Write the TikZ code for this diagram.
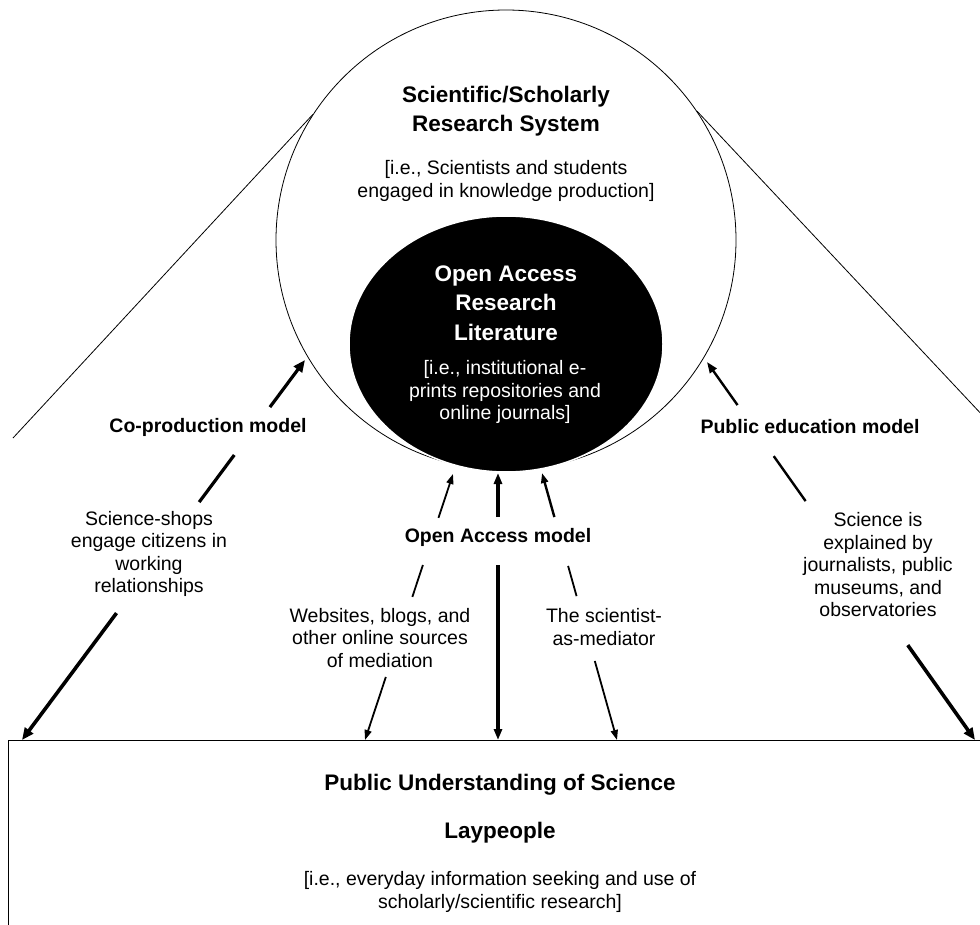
\documentclass[tikz,border=0pt]{standalone}
\usepackage{fontspec}
\setmainfont{Liberation Sans}
\usetikzlibrary{shapes.geometric,arrows.meta,calc}
\begin{document}
\begin{tikzpicture}[x=1pt,y=-1pt,
  reg/.style={font=\fontsize{19.5}{22.5}\selectfont, align=center, inner sep=0pt},
  lbl/.style={font=\bfseries\fontsize{19.5}{22.5}\selectfont, align=center, inner sep=0pt},
  ttl/.style={font=\bfseries\fontsize{22.5}{28.5}\selectfont, align=center, inner sep=0pt},
  hair/.style={line width=0.8pt},
  wthick/.style={line width=3.2pt},
  wmed/.style={line width=2.4pt},
  wthin/.style={line width=1.8pt},
  bigtip/.style={-{Triangle[length=12pt,width=10pt]}},
  midtip/.style={-{Triangle[length=11pt,width=8pt]}},
  smalltip/.style={-{Triangle[length=10pt,width=7pt]}}
]
\useasboundingbox (0,0) rectangle (980,925);
\clip (0,0) rectangle (980,925);

% outer circle and tangents
\node[circle, draw, hair, minimum size=460pt, inner sep=0pt] (sys) at (506,240) {};
\coordinate (lft) at (13,438);
\coordinate (rgt) at (985,418);
\draw[hair] (lft) -- (sys.147);
\draw[hair] (sys.34) -- (rgt);

% inner black ellipse
\node[ellipse, fill=black, draw=white, line width=1.5pt, minimum width=314pt, minimum height=256pt, inner sep=0pt] (oa) at (506,344) {};

% texts in circle
\node[ttl] (sysT) at (506,111) {Scientific/Scholarly\\Research System};
\node[reg] (sysS) at (506,181) {[i.e., Scientists and students\\engaged in knowledge production]};
\node[ttl, text=white, font=\bfseries\fontsize{22.5}{29.5}\selectfont] (oaT) at (506,303) {Open Access\\Research\\Literature};
\node[reg, text=white] (oaS) at (505,392) {[i.e., institutional e-\\prints repositories and\\online journals]};

% bottom box
\node[draw, line width=1.2pt, minimum width=1000pt, minimum height=220pt, anchor=north west, inner sep=0pt] (box) at (8,740) {};
\node[ttl] (pus) at (500,785) {Public Understanding of Science};
\node[ttl] (lay) at (500,833) {Laypeople};
\node[reg] (every) at (500,892) {[i.e., everyday information seeking and use of\\scholarly/scientific research]};

% labels
\node[lbl] (cpm) at (208,427) {Co-production model};
\node[lbl] (pem) at (810,427) {Public education model};
\node[lbl] (oam) at (498,537) {Open Access model};
\node[reg] (shops) at (149,554) {Science-shops\\engage citizens in\\working\\relationships};
\node[reg] (web) at (380,638) {Websites, blogs, and\\other online sources\\of mediation};
\node[reg] (med) at (604,627) {The scientist-\\as-mediator};
\node[reg] (expl) at (878,565) {Science is\\explained by\\journalists, public\\museums, and\\observatories};

% connector end points (on circle / ellipse and on box)
\coordinate (L0) at (305,360); \coordinate (L1) at (22,740);
\coordinate (R0) at (707,362); \coordinate (R1) at (975,740);
\coordinate (A0) at (453,474); \coordinate (A1) at (365,740);
\coordinate (C0) at (498,473); \coordinate (C1) at (498,740);
\coordinate (B0) at (542,473); \coordinate (B1) at (617,740);

% co-production chain
\draw[wthick, bigtip] ($(L0)!0.124!(L1)$) -- (L0);
\draw[wthick] ($(L0)!0.25!(L1)$) -- ($(L0)!0.374!(L1)$);
\draw[line width=3.6pt, bigtip] ($(L0)!0.666!(L1)$) -- (L1);

% public education chain
\draw[wmed, midtip] ($(R0)!0.114!(R1)$) -- (R0);
\draw[wmed] ($(R0)!0.249!(R1)$) -- ($(R0)!0.368!(R1)$);
\draw[line width=3.6pt, bigtip] ($(R0)!0.749!(R1)$) -- (R1);

% open access chains
\draw[wthin, smalltip] ($(A0)!0.165!(A1)$) -- (A0);
\draw[wthin] ($(A0)!0.342!(A1)$) -- ($(A0)!0.462!(A1)$);
\draw[wthin, smalltip] ($(A0)!0.763!(A1)$) -- (A1);

\draw[wthick, midtip] ($(C0)!0.165!(C1)$) -- (C0);
\draw[wthick, midtip] ($(C0)!0.345!(C1)$) -- (C1);

\draw[wmed, smalltip] ($(B0)!0.165!(B1)$) -- (B0);
\draw[wthin] ($(B0)!0.348!(B1)$) -- ($(B0)!0.461!(B1)$);
\draw[wthin, smalltip] ($(B0)!0.704!(B1)$) -- (B1);
\end{tikzpicture}
\end{document}
